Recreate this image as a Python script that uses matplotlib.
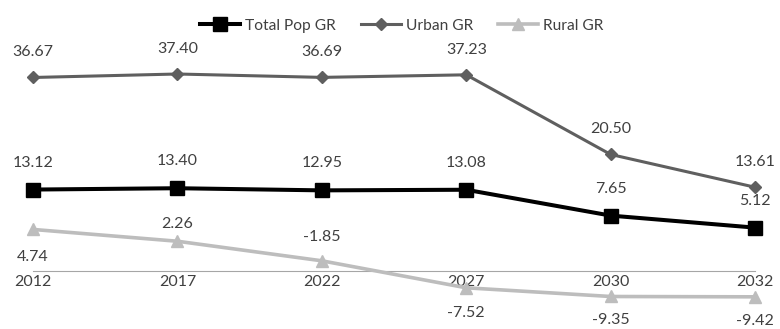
import matplotlib.pyplot as plt

years = ['2012', '2017', '2022', '2027', '2030', '2032']
total_gr = [13.12, 13.40, 12.95, 13.08, 7.65, 5.12]
urban_gr = [36.67, 37.40, 36.69, 37.23, 20.50, 13.61]
rural_gr = [4.74, 2.26, -1.85, -7.52, -9.35, -9.42]

# label placement per point: pixel offset above (+) or below (-) the marker
total_off = [27, 27, 27, 27, 27, 27]
urban_off = [25, 25, 25, 25, 25, 25]
rural_off = [-28, 17, 24, -25, -24, -24]

plt.rcParams['font.family'] = ['Lato', 'DejaVu Sans']
txt = '#404040'

fig = plt.figure(figsize=(7.8, 3.29), dpi=100)
ax = fig.add_axes([0, 0, 1, 1])
x = list(range(len(years)))

ax.plot(x, total_gr, color='black', lw=2.9, marker='s', ms=9.5, label='Total Pop GR', zorder=4)
ax.plot(x, urban_gr, color='#5f5f5f', lw=2.2, marker='D', ms=6.5, label='Urban GR', zorder=3)
ax.plot(x, rural_gr, color='#bdbdbd', lw=2.6, marker='^', ms=9, label='Rural GR', zorder=2)

for vals, offs in [(total_gr, total_off), (urban_gr, urban_off), (rural_gr, rural_off)]:
    for xi, v, o in zip(x, vals, offs):
        ax.annotate(f'{v:.2f}', (xi, v), xytext=(0, o), textcoords='offset pixels',
                    ha='center', va='center', fontsize=11.5, color=txt)

ax.set_xlim(-0.2285, 5.173)
ax.set_ylim(-16.18, 52.95)

# category axis crosses the value axis at -4
for s in ['top', 'left', 'right']:
    ax.spines[s].set_visible(False)
ax.spines['bottom'].set_position(('data', -4))
ax.spines['bottom'].set_bounds(0, 5)
ax.spines['bottom'].set_color('#a6a6a6')
ax.spines['bottom'].set_zorder(1)
ax.set_xticks(x)
ax.set_xticklabels(years, fontsize=11.5, color=txt)
ax.tick_params(axis='x', length=0, pad=3)
ax.set_yticks([])
ax.patch.set_alpha(0)

ax.legend(loc='upper center', bbox_to_anchor=(0.515, 0.985), ncol=3, frameon=False,
          fontsize=11.2, handlelength=2.6, columnspacing=1.6, handletextpad=0.3,
          labelcolor=txt)

fig.savefig('out.png', dpi=100)
